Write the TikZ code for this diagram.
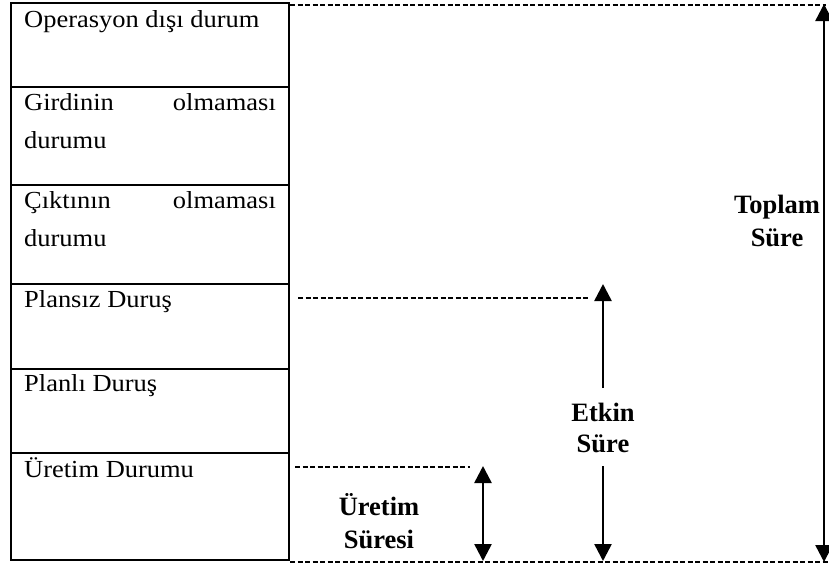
\documentclass[tikz,border=0pt]{standalone}
\usepackage{fontspec}
\setmainfont{Liberation Serif}
\usetikzlibrary{arrows.meta}
\tikzset{
  rowline/.style={line width=2.3pt},
  guide/.style={line width=1.6pt, dash pattern=on 5pt off 2.5pt},
  dimarrow/.style={line width=2.5pt, -{Triangle[width=17pt,length=17pt]}},
  dimarrowboth/.style={line width=2.5pt, {Triangle[width=17pt,length=17pt]}-{Triangle[width=17pt,length=17pt]}},
  rowtext/.style={anchor=base west, inner sep=0pt, font=\fontsize{24.5}{28}\selectfont},
  boldtext/.style={anchor=base, inner sep=0pt, font=\fontsize{26.5}{30}\selectfont\bfseries}
}
\newcommand{\hstretch}[1]{\scalebox{1.08}[1]{#1}}
\begin{document}
\begin{tikzpicture}[x=1pt,y=-1pt]
\useasboundingbox (0,0) rectangle (829,565);
% boxes
\draw[rowline] (11,3) rectangle (289,560);
\foreach \yy in {87,185,284,369,453} \draw[rowline] (11,\yy) -- (289,\yy);
% row texts
\node[rowtext] (t1) at (24,27) {\hstretch{Operasyon dışı durum}};
\node[rowtext] (t2a) at (24,110.7) {\hstretch{\makebox[233pt][s]{Girdinin\hfill olmaması}}};
\node[rowtext] (t2b) at (24,148.3) {\hstretch{durumu}};
\node[rowtext] (t3a) at (24,208.5) {\hstretch{\makebox[233pt][s]{Çıktının\hfill olmaması}}};
\node[rowtext] (t3b) at (24,246) {\hstretch{durumu}};
\node[rowtext] (t4) at (24,307) {\hstretch{Plansız Duruş}};
\node[rowtext] (t5) at (24,391) {\hstretch{Planlı Duruş}};
\node[rowtext] (t6) at (24,477) {\hstretch{Üretim Durumu}};
% guide coordinates
\coordinate (topL) at (290,5);
\coordinate (topR) at (826,5);
\coordinate (botL) at (290,562);
\coordinate (botR) at (828,562);
\coordinate (plL) at (298,298);
\coordinate (plR) at (588,298);
\coordinate (urL) at (295,467);
\coordinate (urR) at (470,467);
% dashed guides
\draw[guide] (topL) -- (topR);
\draw[guide] (botL) -- (botR);
\draw[guide] (plL) -- (plR);
\draw[guide] (urL) -- (urR);
% Toplam arrow
\coordinate (tpTop) at (824,4);
\coordinate (tpBot) at (824,562);
\draw[dimarrowboth] (tpBot) -- (tpTop);
\node[boldtext] (toplam) at (777,213) {Toplam};
\node[boldtext] (toplam2) at (777,246) {Süre};
% Etkin arrow
\node[boldtext] (etkin) at (603,421) {Etkin};
\node[boldtext] (etkin2) at (603,452) {Süre};
\coordinate (etTop) at (603,284);
\coordinate (etMid1) at (603,388);
\coordinate (etMid2) at (603,466);
\coordinate (etBot) at (603,561);
\draw[dimarrow] (etMid1) -- (etTop);
\draw[dimarrow] (etMid2) -- (etBot);
% Uretim arrow
\coordinate (urTop) at (483,466);
\coordinate (urBot) at (483,561);
\draw[dimarrowboth] (urBot) -- (urTop);
\node[boldtext] (uretim) at (379,515) {Üretim};
\node[boldtext] (uretim2) at (379,548) {Süresi};
\end{tikzpicture}
\end{document}
